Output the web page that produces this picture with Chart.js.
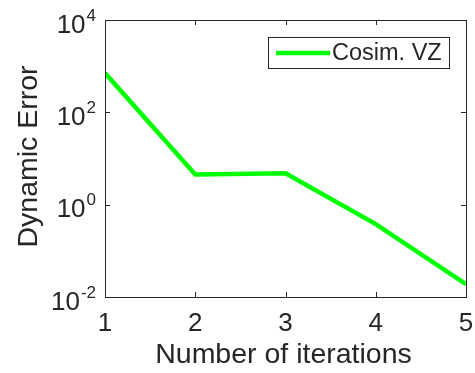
<!DOCTYPE html>
<html>
<head>
<meta charset="utf-8">
<script src="https://cdn.jsdelivr.net/npm/chart.js@4/dist/chart.umd.min.js"></script>
<style>
  body { margin: 0; background: #fff; }
</style>
</head>
<body>
<canvas id="chart" width="475" height="373"></canvas>
<script>
// data
const iterations = [1, 2, 3, 4, 5];
const dynamicError = [710, 4.5, 4.8, 0.38, 0.019];
const seriesLabel = 'Cosim. VZ';
const xTicks = [1, 2, 3, 4, 5];
const yTickExponents = [-2, 0, 2, 4];
const xTitle = 'Number of iterations';
const yTitle = 'Dynamic Error';

const FONT = '"Liberation Sans", Arial, Helvetica, sans-serif';
const AXIS_COLOR = '#262626';

// draws the MATLAB style box, inward ticks, labels and legend
const matlabAxes = {
    id: 'matlabAxes',
    afterDraw(chart) {
        const ctx = chart.ctx;
        const area = chart.chartArea;
        const xs = chart.scales.x, ys = chart.scales.y;
        const tickLen = 5;

        ctx.save();
        ctx.strokeStyle = AXIS_COLOR;
        ctx.lineWidth = 1;

        // box
        ctx.strokeRect(Math.round(area.left) + 0.5, Math.round(area.top) + 0.5,
            Math.round(area.right - area.left), Math.round(area.bottom - area.top));

        // ticks
        ctx.beginPath();
        xTicks.forEach(v => {
            const px = Math.round(xs.getPixelForValue(v)) + 0.5;
            ctx.moveTo(px, area.bottom); ctx.lineTo(px, area.bottom - tickLen);
            ctx.moveTo(px, area.top); ctx.lineTo(px, area.top + tickLen);
        });
        yTickExponents.forEach(e => {
            const py = Math.round(ys.getPixelForValue(Math.pow(10, e))) + 0.5;
            ctx.moveTo(area.left, py); ctx.lineTo(area.left + tickLen, py);
            ctx.moveTo(area.right, py); ctx.lineTo(area.right - tickLen, py);
        });
        ctx.stroke();

        ctx.fillStyle = AXIS_COLOR;
        ctx.textBaseline = 'alphabetic';

        // x tick labels
        ctx.font = '26px ' + FONT;
        ctx.textAlign = 'center';
        xTicks.forEach(v => {
            ctx.fillText(String(v), xs.getPixelForValue(v), area.bottom + 33.5);
        });

        // y tick labels with superscript exponent
        yTickExponents.forEach(e => {
            const py = ys.getPixelForValue(Math.pow(10, e));
            const exp = String(e);
            ctx.font = '17px ' + FONT;
            const ew = ctx.measureText(exp).width;
            const right = area.left - 9;
            ctx.textAlign = 'left';
            ctx.fillText(exp, right - ew, py + 0.5);
            ctx.font = '26px ' + FONT;
            ctx.textAlign = 'right';
            ctx.fillText('10', right - ew - 1, py + 12.5);
        });

        // axis titles
        ctx.font = '28.5px ' + FONT;
        ctx.textAlign = 'center';
        ctx.fillText(xTitle, (area.left + area.right) / 2 - 2, area.bottom + 66);
        ctx.save();
        ctx.translate(36.5, (area.top + area.bottom) / 2 - 2);
        ctx.rotate(-Math.PI / 2);
        ctx.fillText(yTitle, 0, 0);
        ctx.restore();

        // legend
        const ds = chart.data.datasets[0];
        const lw = 181, lh = 31;
        const lx = Math.round(area.right - 17 - lw), ly = Math.round(area.top + 17);
        ctx.fillStyle = '#fff';
        ctx.fillRect(lx, ly, lw, lh);
        ctx.strokeStyle = AXIS_COLOR;
        ctx.strokeRect(lx + 0.5, ly + 0.5, lw, lh);
        ctx.strokeStyle = ds.borderColor;
        ctx.lineWidth = ds.borderWidth;
        ctx.beginPath();
        ctx.moveTo(lx + 8, ly + lh / 2 + 0.5);
        ctx.lineTo(lx + 62, ly + lh / 2 + 0.5);
        ctx.stroke();
        ctx.fillStyle = AXIS_COLOR;
        ctx.font = '23.5px ' + FONT;
        ctx.textAlign = 'left';
        ctx.textBaseline = 'middle';
        ctx.fillText(ds.label, lx + 64, ly + lh / 2 + 1.5);

        ctx.restore();
    }
};

new Chart(document.getElementById('chart'), {
    type: 'line',
    data: {
        datasets: [{
            label: seriesLabel,
            data: iterations.map((x, i) => ({ x: x, y: dynamicError[i] })),
            borderColor: '#00ff00',
            borderWidth: 4.5,
            pointRadius: 0,
            tension: 0,
            fill: false
        }]
    },
    options: {
        responsive: false,
        animation: false,
        layout: { padding: { left: 105, right: 9, top: 20, bottom: 76 } },
        plugins: { legend: { display: false }, tooltip: { enabled: false } },
        scales: {
            x: { type: 'linear', min: 1, max: 5, display: false },
            y: { type: 'logarithmic', min: 0.01, max: 10000, display: false }
        }
    },
    plugins: [matlabAxes]
});
</script>
</body>
</html>
